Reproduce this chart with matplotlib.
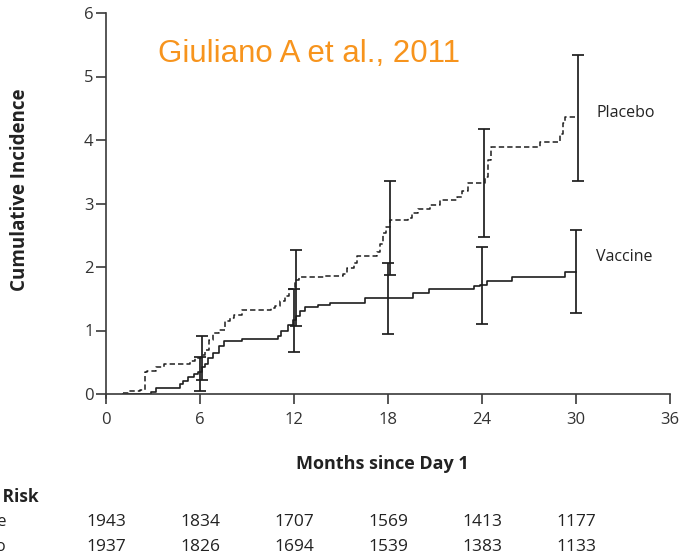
import matplotlib
matplotlib.use("Agg")
import matplotlib.pyplot as plt
from matplotlib.transforms import blended_transform_factory

plt.rcParams["font.family"] = ["Open Sans", "DejaVu Sans"]

# Kaplan-Meier style cumulative incidence (post-step)
vaccine_months = [1.1, 2.9, 3.2, 4.7, 4.9, 5.25, 5.6, 5.9, 6.1, 6.3,
                  6.5, 6.85, 7.2, 7.5, 8.7, 11.0, 11.2, 11.6, 11.95, 12.1,
                  12.4, 12.7, 13.5, 14.3, 16.5, 19.6, 20.6, 23.5, 23.9, 24.3,
                  25.9, 29.3, 30.0]
vaccine_incidence = [0.0, 0.03, 0.10, 0.15, 0.21, 0.27, 0.32, 0.35, 0.43, 0.47,
                     0.56, 0.65, 0.75, 0.83, 0.87, 0.91, 0.99, 1.09, 1.17, 1.23,
                     1.31, 1.37, 1.40, 1.44, 1.51, 1.59, 1.65, 1.70, 1.72, 1.78,
                     1.85, 1.92, 1.92]

placebo_months = [1.1, 1.4, 2.2, 2.5, 2.6, 3.2, 3.7, 5.35, 5.7, 6.05,
                  6.3, 6.6, 6.85, 7.2, 7.6, 7.9, 8.2, 8.65, 10.5, 10.8,
                  11.1, 11.4, 11.7, 12.05, 12.3, 13.9, 15.1, 15.4, 15.8, 16.0,
                  17.3, 17.5, 17.7, 17.9, 18.1, 19.3, 19.5, 19.9, 20.7, 21.3,
                  22.4, 22.7, 23.1, 24.2, 24.4, 24.6, 27.7, 29.0, 29.2, 29.3,
                  30.0]
placebo_incidence = [0.02, 0.04, 0.06, 0.35, 0.37, 0.43, 0.48, 0.52, 0.56, 0.61,
                     0.69, 0.85, 0.96, 1.01, 1.15, 1.20, 1.25, 1.32, 1.35, 1.39,
                     1.47, 1.55, 1.65, 1.79, 1.84, 1.86, 1.89, 1.98, 2.06, 2.17,
                     2.24, 2.37, 2.53, 2.63, 2.74, 2.77, 2.85, 2.92, 2.98, 3.06,
                     3.11, 3.19, 3.33, 3.42, 3.69, 3.89, 3.97, 4.10, 4.26, 4.37,
                     4.37]

# 95% confidence intervals at the 6-month visits
ci_months = [6, 12, 18, 24, 30]
vaccine_ci_low = [0.04, 0.66, 0.94, 1.10, 1.27]
vaccine_ci_high = [0.59, 1.66, 2.07, 2.32, 2.58]
placebo_ci_low = [0.22, 1.07, 1.87, 2.48, 3.36]
placebo_ci_high = [0.92, 2.26, 3.36, 4.18, 5.34]

# number at risk table
risk_months = [0, 6, 12, 18, 24, 30]
vaccine_at_risk = [1943, 1834, 1707, 1569, 1413, 1177]
placebo_at_risk = [1937, 1826, 1694, 1539, 1383, 1133]

x_ticks = [0, 6, 12, 18, 24, 30, 36]
y_ticks = [0, 1, 2, 3, 4, 5, 6]

ink = "#1e1e1e"
axis_grey = "#3a3a3a"

fig = plt.figure(figsize=(6.91, 5.57), dpi=100)
ax = fig.add_axes([106 / 691, 163 / 557, 564 / 691, 381 / 557])

ax.step(vaccine_months, vaccine_incidence, where="post", color=ink, linewidth=1.2)
ax.step(placebo_months, placebo_incidence, where="post", color=ink, linewidth=1.1,
        linestyle=(0, (3.5, 2.0)))

# placebo bars sit a little to the right of the vaccine bars
placebo_shift = 0.13
for low, high, shift in [
    (vaccine_ci_low, vaccine_ci_high, 0.0),
    (placebo_ci_low, placebo_ci_high, placebo_shift),
]:
    spans = [h - l for l, h in zip(low, high)]
    ax.errorbar([m + shift for m in ci_months], low, yerr=[[0] * len(low), spans],
                fmt="none", ecolor=ink, elinewidth=1.25, capsize=4, capthick=1.25)

ax.set_xlim(0, 36)
ax.set_ylim(0, 6)
ax.set_xticks(x_ticks)
ax.set_yticks(y_ticks)
for side in ["top", "right"]:
    ax.spines[side].set_visible(False)
for side in ["left", "bottom"]:
    ax.spines[side].set_color(axis_grey)
    ax.spines[side].set_linewidth(1.2)
ax.spines["left"].set_bounds(-0.06, 6)
ax.tick_params(axis="both", colors=axis_grey, labelcolor="#333333", labelsize=12,
               length=7, width=1.2, direction="out")
ax.tick_params(axis="x", pad=6)
ax.tick_params(axis="y", pad=2)

ax.set_xlabel("Months since Day 1", fontsize=13, fontweight="bold", color="#222222")
ax.set_ylabel("Cumulative Incidence", fontsize=13.5, fontweight="bold", color="#222222")
ax.xaxis.set_label_coords(0.49, -0.16)
ax.yaxis.set_label_coords(-0.135, 0.535)

ax.text(31.3, 4.42, "Placebo", fontsize=11.5, color="#222222", va="center", ha="left")
ax.text(31.3, 2.16, "Vaccine", fontsize=11.5, color="#222222", va="center", ha="left")

ax.text(3.3, 5.35, "Giuliano A et al., 2011", fontsize=22.5, color="#F7941D",
        family="Liberation Sans", va="center", ha="left")

# number-at-risk rows under the axis
row_trans = blended_transform_factory(ax.transData, fig.transFigure)
fig.text(39 / 691, 1 - 497 / 557, "No. at Risk", fontsize=12.5, fontweight="bold",
         color="#222222", ha="right", va="center")
fig.text(6 / 691, 1 - 522 / 557, "Vaccine", fontsize=12, color="#222222",
         ha="right", va="center")
fig.text(6 / 691, 1 - 547 / 557, "Placebo", fontsize=12, color="#222222",
         ha="right", va="center")
for month, v_count, p_count in zip(risk_months, vaccine_at_risk, placebo_at_risk):
    ax.text(month, 1 - 522 / 557, str(v_count), transform=row_trans, fontsize=12.5,
            color="#222222", ha="center", va="center", clip_on=False)
    ax.text(month, 1 - 547 / 557, str(p_count), transform=row_trans, fontsize=12.5,
            color="#222222", ha="center", va="center", clip_on=False)

fig.savefig("out.png", dpi=100)
